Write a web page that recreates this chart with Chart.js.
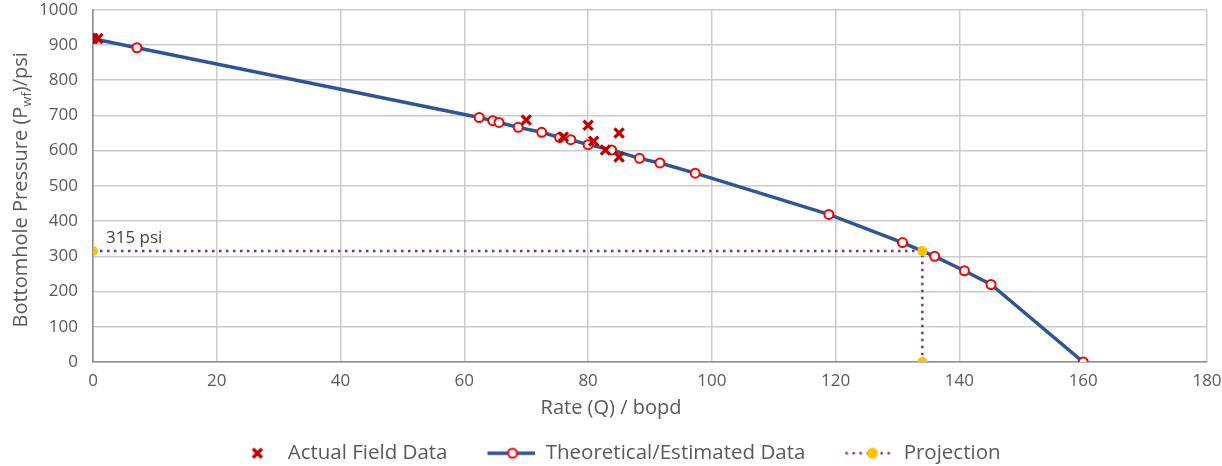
<!DOCTYPE html>
<html>
<head>
<meta charset="utf-8">
<script src="https://cdn.jsdelivr.net/npm/chart.js@4.4.1/dist/chart.umd.min.js"></script>
<style>
  html, body { margin: 0; padding: 0; background: #ffffff; }
  #wrap { width: 1222px; height: 466px; position: relative; }
</style>
</head>
<body>
<div id="wrap"><canvas id="c"></canvas></div>
<script>
// ---------- data ----------
const xTickValues = [0, 20, 40, 60, 80, 100, 120, 140, 160, 180];
const yTickValues = [0, 100, 200, 300, 400, 500, 600, 700, 800, 900, 1000];

const actualRate     = [0, 0.8, 70.0, 80.0, 85.0, 76.0, 80.9, 82.8, 85.0];
const actualPressure = [918, 918, 687, 672, 650, 639, 627, 602, 582];

const theoRate     = [0, 7.1, 62.4, 64.6, 65.6, 68.7, 72.5, 75.4, 77.2, 80.0, 83.8, 88.3, 91.6, 97.3, 118.9, 130.8, 136.0, 140.8, 145.1, 160];
const theoPressure = [918, 892, 694, 685, 680, 666, 652, 637, 631, 617, 602, 578, 565, 536, 419, 339, 300, 259, 220, 0];

const projRate     = [0, 134, 134];
const projPressure = [315, 315, 0];

const seriesLabels = ['Actual Field Data', 'Theoretical/Estimated Data', 'Projection'];
const xTitle = 'Rate (Q) / bopd';
const yTitleParts = ['Bottomhole Pressure (P', 'wf', ')/psi'];
const annotationText = '315 psi';
const annotationAt = { x: 2.1, y: 351 };

// ---------- styles ----------
const C_ACT = '#c00000', C_LINE = '#2f5597', C_CIRC = '#ff0000', C_PROJ = '#7030a0', C_DOT = '#ffc000';
const TXT = '#595959';
const FONT = "'Open Sans', 'Noto Sans', sans-serif";

function pts(xs, ys) { return xs.map((x, i) => ({ x: x, y: ys[i] })); }

// legend icons
const ICON_W = 83, ICON_H = 20;
function mkIcon(draw) {
  const c = document.createElement('canvas');
  c.width = ICON_W; c.height = ICON_H;
  const g = c.getContext('2d');
  draw(g);
  return c;
}
const iconActual = mkIcon(g => {
  g.strokeStyle = C_ACT; g.lineWidth = 3.5; g.lineCap = 'butt';
  const cx = 63, cy = 10, r = 4.5;
  g.beginPath(); g.moveTo(cx - r, cy - r); g.lineTo(cx + r, cy + r);
  g.moveTo(cx + r, cy - r); g.lineTo(cx - r, cy + r); g.stroke();
});
const iconTheo = mkIcon(g => {
  g.strokeStyle = C_LINE; g.lineWidth = 3.5;
  g.beginPath(); g.moveTo(35, 10); g.lineTo(83, 10); g.stroke();
  g.beginPath(); g.arc(60, 10, 4.5, 0, Math.PI * 2);
  g.fillStyle = '#ffffff'; g.fill(); g.strokeStyle = C_CIRC; g.lineWidth = 2; g.stroke();
});
const iconProj = mkIcon(g => {
  g.strokeStyle = C_PROJ; g.lineWidth = 2.5; g.setLineDash([2.5, 4.5]);
  g.beginPath(); g.moveTo(35, 10); g.lineTo(83, 10); g.stroke();
  g.setLineDash([]);
  g.beginPath(); g.arc(62, 10, 5.5, 0, Math.PI * 2); g.fillStyle = C_DOT; g.fill();
});
const legendIcons = [iconActual, iconTheo, iconProj];

// plugin: fixed legend height/offset + custom texts
const LEGEND_H = 28;
const LEGEND_SHIFT = -6;
const customPlugin = {
  id: 'customTexts',
  beforeLayout(chart) {
    const lg = chart.legend;
    if (lg && !lg._wrapped) {
      const orig = lg.fit;
      lg.fit = function () { orig.call(this); this.height = LEGEND_H; };
      lg._wrapped = true;
    }
  },
  afterLayout(chart) {
    const lg = chart.legend;
    if (lg) { lg.left += LEGEND_SHIFT; lg.right += LEGEND_SHIFT; }
  },
  afterDatasetsDraw(chart) {
    const { ctx, scales } = chart;
    ctx.save();
    ctx.font = '17px ' + FONT;
    ctx.fillStyle = '#404040';
    ctx.textAlign = 'left';
    ctx.textBaseline = 'middle';
    ctx.fillText(annotationText, scales.x.getPixelForValue(annotationAt.x), scales.y.getPixelForValue(annotationAt.y));
    ctx.restore();
  },
  afterDraw(chart) {
    const { ctx, chartArea } = chart;
    // x title
    ctx.save();
    ctx.font = '20px ' + FONT;
    ctx.fillStyle = TXT;
    ctx.textAlign = 'center';
    ctx.textBaseline = 'middle';
    ctx.fillText(xTitle, chart.width / 2, 408);
    ctx.restore();
    // y title with subscript
    ctx.save();
    const big = '20px ' + FONT, small = '13px ' + FONT;
    ctx.font = big; const w0 = ctx.measureText(yTitleParts[0]).width;
    const w2 = ctx.measureText(yTitleParts[2]).width;
    ctx.font = small; const w1 = ctx.measureText(yTitleParts[1]).width;
    const total = w0 + w1 + w2;
    ctx.translate(20, (chartArea.top + chartArea.bottom) / 2 + 4);
    ctx.rotate(-Math.PI / 2);
    ctx.fillStyle = TXT;
    ctx.textAlign = 'left';
    ctx.textBaseline = 'alphabetic';
    let x = -total / 2;
    ctx.font = big; ctx.fillText(yTitleParts[0], x, 7); x += w0;
    ctx.font = small; ctx.fillText(yTitleParts[1], x, 11); x += w1;
    ctx.font = big; ctx.fillText(yTitleParts[2], x, 7);
    ctx.restore();
  }
};

Chart.defaults.font.family = FONT;
Chart.defaults.color = TXT;

new Chart(document.getElementById('c'), {
  type: 'scatter',
  data: {
    datasets: [
      {
        label: seriesLabels[0],
        data: pts(actualRate, actualPressure),
        showLine: false,
        pointStyle: 'crossRot',
        pointRadius: 6.5,
        pointHoverRadius: 6.5,
        borderColor: C_ACT,
        backgroundColor: C_ACT,
        pointBorderWidth: 3.2,
        order: 1
      },
      {
        label: seriesLabels[1],
        data: pts(theoRate, theoPressure),
        showLine: true,
        tension: 0,
        borderColor: C_LINE,
        borderWidth: 3.5,
        pointStyle: 'circle',
        pointRadius: 4.5,
        pointHoverRadius: 4.5,
        pointBackgroundColor: '#ffffff',
        pointBorderColor: C_CIRC,
        pointBorderWidth: 2,
        order: 2
      },
      {
        label: seriesLabels[2],
        data: pts(projRate, projPressure),
        showLine: true,
        tension: 0,
        borderColor: C_PROJ,
        borderWidth: 2.5,
        borderDash: [2.5, 4.5],
        pointStyle: 'circle',
        pointRadius: 5,
        pointHoverRadius: 5,
        pointBackgroundColor: C_DOT,
        pointBorderColor: C_DOT,
        pointBorderWidth: 0,
        order: 0
      }
    ]
  },
  options: {
    responsive: true,
    maintainAspectRatio: false,
    animation: false,
    events: [],
    layout: { padding: { left: 0, right: 15, top: 9, bottom: 0 } },
    scales: {
      x: {
        type: 'linear',
        min: 0, max: 180,
        afterBuildTicks: s => { s.ticks = xTickValues.map(v => ({ value: v })); },
        ticks: { font: { size: 17 }, color: TXT, padding: 9, maxRotation: 0, callback: v => String(v) },
        grid: { color: '#cccccc', lineWidth: 1.5, drawTicks: false },
        border: { color: '#8c8c8c', width: 1.5 },
        afterFit: s => { s.height = 466 - LEGEND_H - 362; s.paddingLeft = 0; s.paddingRight = 0; }
      },
      y: {
        type: 'linear',
        min: 0, max: 1000,
        afterBuildTicks: s => { s.ticks = yTickValues.map(v => ({ value: v })); },
        ticks: { font: { size: 17 }, color: TXT, padding: 15, callback: v => String(v) },
        grid: { color: '#cccccc', lineWidth: 1.5, drawTicks: false },
        border: { color: '#8c8c8c', width: 1.5 },
        afterFit: s => { s.width = 93; s.paddingTop = 0; s.paddingBottom = 0; }
      }
    },
    plugins: {
      tooltip: { enabled: false },
      legend: {
        position: 'bottom',
        labels: {
          usePointStyle: true,
          pointStyleWidth: ICON_W,
          boxHeight: 20,
          padding: 5,
          font: { size: 20.5 },
          color: TXT,
          generateLabels: chart => chart.data.datasets.map((ds, i) => ({
            text: ds.label,
            pointStyle: legendIcons[i],
            fillStyle: 'rgba(0,0,0,0)',
            strokeStyle: 'rgba(0,0,0,0)',
            lineWidth: 0,
            hidden: false,
            datasetIndex: i,
            fontColor: TXT
          }))
        }
      }
    }
  },
  plugins: [customPlugin]
});
</script>
</body>
</html>
